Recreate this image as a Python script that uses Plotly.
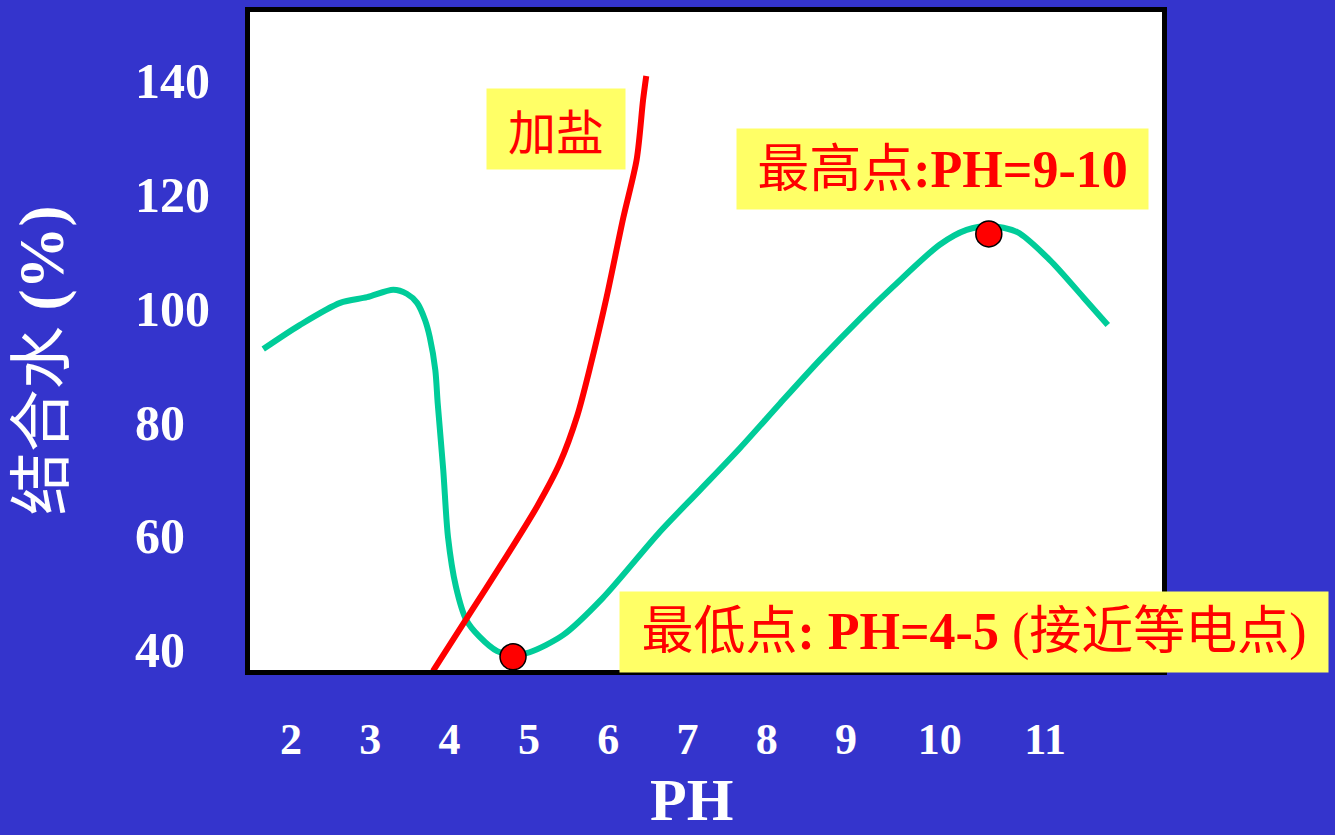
import plotly.graph_objects as go

# Bound water (%) versus pH, without salt
ph_water = [1.65, 2.11, 2.62, 2.96, 3.29, 3.46, 3.59, 3.69, 3.75, 3.82, 3.85, 3.92, 3.98, 4.08,
            4.21, 4.38, 4.60, 4.80, 5.01, 5.43, 5.93, 6.65, 7.16, 7.66, 8.17, 8.67, 9.18, 9.59,
            10.18, 10.52, 10.81, 11.16, 11.57, 11.99, 12.30]
water = [92.8, 97.0, 100.9, 101.9, 103.2, 102.5, 100.9, 97.9, 94.9, 89.1, 83.3, 71.6, 59.8, 51.1,
         45.3, 42.3, 39.8, 39.1, 39.6, 42.6, 49.1, 60.7, 68.1, 75.4, 83.3, 90.9, 98.2, 103.7,
         111.1, 113.7, 114.4, 113.3, 108.4, 101.9, 97.0]

# With salt added
ph_salt = [3.79, 4.26, 4.67, 5.10, 5.39, 5.61, 5.77, 5.98, 6.19, 6.36, 6.44, 6.48]
salt = [36.3, 46.5, 55.4, 65.1, 72.8, 81.1, 89.5, 101.9, 115.8, 126.1, 136.5, 140.7]

# Lowest and highest points
extreme_ph = [4.80, 10.80]
extreme_val = [38.8, 113.0]

x_tick_vals = [2, 3, 4, 5, 6, 7, 8, 9, 10.18, 11.51]
x_tick_text = ["2", "3", "4", "5", "6", "7", "8", "9", "10", "11"]
y_tick_vals = [40, 60, 80, 100, 120, 140]
y_tick_text = ["40\u2007", "60\u2007", "80\u2007", "100", "120", "140"]

BLUE = "#3434CC"
GREEN = "#00CC99"
RED = "#FF0000"
YELLOW = "#FFFF66"
FONT = "Liberation Serif, Noto Sans CJK SC"

fig = go.Figure()
fig.add_trace(go.Scatter(x=ph_water, y=water, mode="lines",
                         line=dict(color=GREEN, width=6, shape="spline", smoothing=0.8),
                         showlegend=False, hoverinfo="skip"))
fig.add_trace(go.Scatter(x=ph_salt, y=salt, mode="lines",
                         line=dict(color=RED, width=6, shape="spline", smoothing=0.8),
                         showlegend=False, hoverinfo="skip"))
fig.add_trace(go.Scatter(x=extreme_ph, y=extreme_val, mode="markers",
                         marker=dict(color=RED, size=26, line=dict(color="black", width=1.5)),
                         showlegend=False, cliponaxis=False, hoverinfo="skip"))

fig.add_annotation(x=5.34, y=131.4, xref="x", yref="y", text="加盐", showarrow=False,
                   font=dict(family="Noto Sans CJK SC", size=48, color=RED),
                   bgcolor=YELLOW, width=138, height=80, borderpad=0)
fig.add_annotation(x=10.21, y=124.4, xref="x", yref="y", text="最高点<b>:PH=9-10</b>",
                   showarrow=False, font=dict(family=FONT, size=52, color=RED),
                   bgcolor=YELLOW, width=411, height=80, borderpad=0)
fig.add_annotation(x=10.61, y=43.2, xref="x", yref="y",
                   text="最低点<b>: PH=4-5</b> (接近等电点)",
                   showarrow=False, font=dict(family=FONT, size=52, color=RED),
                   bgcolor=YELLOW, width=708, height=80, borderpad=0)

# Axis titles
fig.add_annotation(x=0.4846, y=-0.2508, xref="paper", yref="paper", text="<b>PH</b>",
                   showarrow=False, xanchor="center", yanchor="bottom",
                   font=dict(family=FONT, size=60, color="white"))
fig.add_annotation(x=-0.228, y=0.471, xref="paper", yref="paper", text="结合水 <b>(%)</b>",
                   showarrow=False, xanchor="center", yanchor="middle", textangle=-90,
                   font=dict(family=FONT, size=63, color="white"))

fig.update_layout(
    width=1335, height=835,
    margin=dict(l=250, r=173, t=12, b=165, autoexpand=False),
    paper_bgcolor=BLUE, plot_bgcolor="white",
    font=dict(family=FONT, color="white"),
    xaxis=dict(range=[1.483, 12.984], tickvals=x_tick_vals, ticktext=x_tick_text,
               tickfont=dict(family=FONT, size=44, color="white", weight="bold"),
               ticks="", ticklen=0, ticklabelstandoff=26, automargin=False,
               showgrid=False, zeroline=False, showline=True, linecolor="black",
               linewidth=5, mirror=True),
    yaxis=dict(range=[36.49, 151.93], tickvals=y_tick_vals, ticktext=y_tick_text,
               tickfont=dict(family=FONT, size=50, color="white", weight="bold"),
               ticks="", ticklen=0, ticklabelstandoff=25, automargin=False,
               showgrid=False, zeroline=False, showline=True, linecolor="black",
               linewidth=5, mirror=True),
)

fig.write_html("out.html", config={"displayModeBar": False},
               post_script="document.body.style.margin='0';")
